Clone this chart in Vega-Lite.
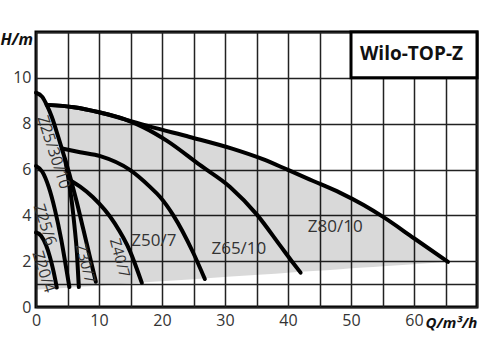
{
  "$schema": "https://vega.github.io/schema/vega-lite/v6.json",
  "width": 441,
  "height": 275,
  "autosize": {"type": "none"},
  "padding": {"left": 36, "top": 32, "right": 3, "bottom": 53},
  "background": "white",
  "config": {"view": {"stroke": "#000", "strokeWidth": 3}, "font": "Open Sans"},
  "datasets": {
    "envelope": [
      {"q": 0, "h": 9.35, "lo": 0.75},
      {"q": 1, "h": 9.17, "lo": 0.77},
      {"q": 1.7, "h": 8.82, "lo": 0.78},
      {"q": 6, "h": 8.72, "lo": 0.86},
      {"q": 10, "h": 8.5, "lo": 0.93},
      {"q": 14, "h": 8.2, "lo": 1.01},
      {"q": 18, "h": 7.88, "lo": 1.09},
      {"q": 24.4, "h": 7.42, "lo": 1.2},
      {"q": 31, "h": 6.92, "lo": 1.33},
      {"q": 36, "h": 6.45, "lo": 1.42},
      {"q": 40, "h": 5.98, "lo": 1.5},
      {"q": 44, "h": 5.5, "lo": 1.57},
      {"q": 48.3, "h": 4.98, "lo": 1.65},
      {"q": 52, "h": 4.45, "lo": 1.72},
      {"q": 55.1, "h": 3.93, "lo": 1.78},
      {"q": 60, "h": 3.0, "lo": 1.87},
      {"q": 65.4, "h": 1.97, "lo": 1.97}
    ],
    "curves": [
      {"pump": "Z80/10", "q": 1.7, "h": 8.82},
      {"pump": "Z80/10", "q": 6, "h": 8.72},
      {"pump": "Z80/10", "q": 10, "h": 8.5},
      {"pump": "Z80/10", "q": 14, "h": 8.2},
      {"pump": "Z80/10", "q": 18, "h": 7.88},
      {"pump": "Z80/10", "q": 24.4, "h": 7.42},
      {"pump": "Z80/10", "q": 31, "h": 6.92},
      {"pump": "Z80/10", "q": 36, "h": 6.45},
      {"pump": "Z80/10", "q": 40, "h": 5.98},
      {"pump": "Z80/10", "q": 44, "h": 5.5},
      {"pump": "Z80/10", "q": 48.3, "h": 4.98},
      {"pump": "Z80/10", "q": 52, "h": 4.45},
      {"pump": "Z80/10", "q": 55.1, "h": 3.93},
      {"pump": "Z80/10", "q": 60, "h": 3.0},
      {"pump": "Z80/10", "q": 65.4, "h": 1.97},
      {"pump": "Z65/10", "q": 1.7, "h": 8.82},
      {"pump": "Z65/10", "q": 6, "h": 8.72},
      {"pump": "Z65/10", "q": 10, "h": 8.5},
      {"pump": "Z65/10", "q": 14, "h": 8.2},
      {"pump": "Z65/10", "q": 17, "h": 7.85},
      {"pump": "Z65/10", "q": 20.8, "h": 7.25},
      {"pump": "Z65/10", "q": 26, "h": 6.2},
      {"pump": "Z65/10", "q": 30.8, "h": 5.24},
      {"pump": "Z65/10", "q": 35.1, "h": 4.02},
      {"pump": "Z65/10", "q": 38.7, "h": 2.7},
      {"pump": "Z65/10", "q": 40.6, "h": 2.0},
      {"pump": "Z65/10", "q": 42, "h": 1.5},
      {"pump": "Z50/7", "q": 4.1, "h": 6.92},
      {"pump": "Z50/7", "q": 7, "h": 6.75},
      {"pump": "Z50/7", "q": 10.2, "h": 6.58},
      {"pump": "Z50/7", "q": 14.9, "h": 5.98},
      {"pump": "Z50/7", "q": 18.1, "h": 5.24},
      {"pump": "Z50/7", "q": 19.7, "h": 4.8},
      {"pump": "Z50/7", "q": 21.8, "h": 4.0},
      {"pump": "Z50/7", "q": 24.9, "h": 2.4},
      {"pump": "Z50/7", "q": 26.8, "h": 1.22},
      {"pump": "Z40/7", "q": 5.6, "h": 5.5},
      {"pump": "Z40/7", "q": 7, "h": 5.25},
      {"pump": "Z40/7", "q": 9, "h": 4.8},
      {"pump": "Z40/7", "q": 12.5, "h": 3.65},
      {"pump": "Z40/7", "q": 14.9, "h": 2.45},
      {"pump": "Z40/7", "q": 16.8, "h": 1.05},
      {"pump": "Z30/7", "q": 4.6, "h": 6.45},
      {"pump": "Z30/7", "q": 5.2, "h": 5.5},
      {"pump": "Z30/7", "q": 5.7, "h": 4.55},
      {"pump": "Z30/7", "q": 6.1, "h": 3.55},
      {"pump": "Z30/7", "q": 6.5, "h": 2.35},
      {"pump": "Z30/7", "q": 6.8, "h": 0.87},
      {"pump": "Z25/30/10", "q": 0, "h": 9.35},
      {"pump": "Z25/30/10", "q": 1, "h": 9.17},
      {"pump": "Z25/30/10", "q": 1.7, "h": 8.82},
      {"pump": "Z25/30/10", "q": 2.5, "h": 8.3},
      {"pump": "Z25/30/10", "q": 3.5, "h": 7.45},
      {"pump": "Z25/30/10", "q": 4.5, "h": 6.55},
      {"pump": "Z25/30/10", "q": 5.5, "h": 5.6},
      {"pump": "Z25/30/10", "q": 6.5, "h": 4.55},
      {"pump": "Z25/30/10", "q": 7.5, "h": 3.4},
      {"pump": "Z25/30/10", "q": 8.5, "h": 2.25},
      {"pump": "Z25/30/10", "q": 9.5, "h": 1.1},
      {"pump": "Z25/6", "q": 0, "h": 6.15},
      {"pump": "Z25/6", "q": 1, "h": 5.9},
      {"pump": "Z25/6", "q": 2, "h": 5.25},
      {"pump": "Z25/6", "q": 3, "h": 4.25},
      {"pump": "Z25/6", "q": 4, "h": 2.95},
      {"pump": "Z25/6", "q": 4.7, "h": 1.85},
      {"pump": "Z25/6", "q": 5.3, "h": 0.87},
      {"pump": "Z20/4", "q": 0, "h": 3.25},
      {"pump": "Z20/4", "q": 0.8, "h": 3.11},
      {"pump": "Z20/4", "q": 1.6, "h": 2.69},
      {"pump": "Z20/4", "q": 2.2, "h": 2.19},
      {"pump": "Z20/4", "q": 2.8, "h": 1.53},
      {"pump": "Z20/4", "q": 3.3, "h": 0.85}
    ],
    "flatLabels": [
      {"label": "Z50/7", "q": 18.7, "h": 2.86},
      {"label": "Z65/10", "q": 32.2, "h": 2.55},
      {"label": "Z80/10", "q": 47.5, "h": 3.5}
    ],
    "steepLabels": [
      {"label": "Z25/30/10", "q": 2.8, "h": 6.75},
      {"label": "Z25/6", "q": 1.4, "h": 3.58},
      {"label": "Z20/4", "q": 1.2, "h": 1.53}
    ],
    "tiltLabels": [
      {"label": "Z30/7", "q": 7.85, "h": 1.9},
      {"label": "Z40/7", "q": 13.3, "h": 2.14}
    ],
    "box": [{"q": 50, "q2": 70, "h": 10, "h2": 12, "label": "Wilo-TOP-Z", "qt": 59.6, "ht": 11.05}]
  },
  "encoding": {
    "x": {
      "field": "q", "type": "quantitative",
      "scale": {"domain": [0, 70], "nice": false, "zero": false},
      "axis": {
        "values": [0, 5, 10, 15, 20, 25, 30, 35, 40, 45, 50, 55, 60, 65, 70],
        "labelExpr": "datum.value % 10 === 0 && datum.value <= 60 ? datum.label : ''",
        "tickSize": 0, "domain": false, "grid": true, "gridColor": "#222", "gridWidth": 1.5,
        "labelFontSize": 16, "labelColor": "#333", "labelPadding": 5, "labelFlush": false,
        "title": "Q/m³/h", "titleFontStyle": "italic", "titleFontWeight": "bold", "titleFontSize": 15,
        "titleColor": "#111", "titleX": 389, "titleY": 15, "titleAlign": "left", "titleBaseline": "middle", "titleAnchor": null
      }
    },
    "y": {
      "field": "h", "type": "quantitative",
      "scale": {"domain": [0, 12], "nice": false, "zero": false},
      "axis": {
        "values": [0, 1, 2, 4, 6, 8, 10, 12],
        "labelExpr": "datum.value % 2 === 0 && datum.value <= 10 ? datum.label : ''",
        "tickSize": 0, "domain": false, "grid": true, "gridColor": "#222", "gridWidth": 1.5,
        "labelFontSize": 16, "labelColor": "#333", "labelPadding": 5,
        "title": "H/m", "titleAngle": 0, "titleFontStyle": "italic", "titleFontWeight": "bold", "titleFontSize": 16,
        "titleColor": "#111", "titleX": -36, "titleY": 7, "titleAlign": "left", "titleBaseline": "middle", "titleAnchor": null
      }
    }
  },
  "layer": [
    {
      "data": {"name": "envelope"},
      "mark": {"type": "area", "color": "#000", "opacity": 0.15, "interpolate": "monotone"},
      "encoding": {"y2": {"field": "lo"}}
    },
    {
      "data": {"name": "curves"},
      "mark": {"type": "line", "color": "#000", "strokeWidth": 4, "interpolate": "monotone", "strokeCap": "round"},
      "encoding": {"detail": {"field": "pump"}}
    },
    {
      "data": {"name": "box"},
      "mark": {"type": "rect", "fill": "#fff", "stroke": "#000", "strokeWidth": 3},
      "encoding": {"x2": {"field": "q2"}, "y2": {"field": "h2"}}
    },
    {
      "data": {"name": "box"},
      "mark": {"type": "text", "fontSize": 19, "fontWeight": "bold", "color": "#111"},
      "encoding": {"x": {"field": "qt", "type": "quantitative"}, "y": {"field": "ht", "type": "quantitative"}, "text": {"field": "label"}}
    },
    {
      "data": {"name": "flatLabels"},
      "mark": {"type": "text", "fontSize": 17, "color": "#333"},
      "encoding": {"text": {"field": "label"}}
    },
    {
      "data": {"name": "steepLabels"},
      "mark": {"type": "text", "fontSize": 16, "color": "#333", "angle": 72},
      "encoding": {"text": {"field": "label"}}
    },
    {
      "data": {"name": "tiltLabels"},
      "mark": {"type": "text", "fontSize": 15, "color": "#333", "angle": 75},
      "encoding": {"text": {"field": "label"}}
    }
  ]
}
